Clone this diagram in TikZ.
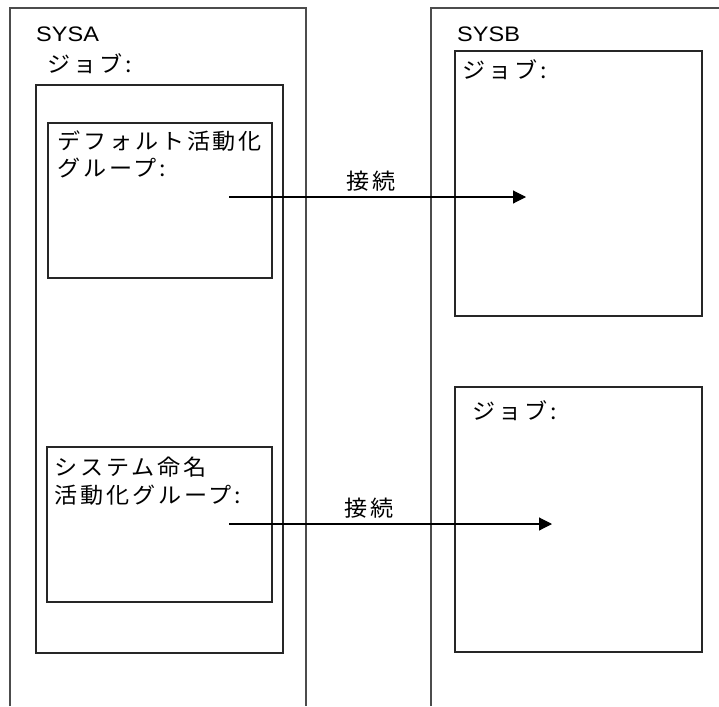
\documentclass[tikz,border=0pt]{standalone}
\usepackage{fontspec}
\usepackage{graphicx}
\setmainfont{Liberation Sans}
\newfontfamily\cjk[FakeStretch=1.05,LetterSpace=13]{Noto Sans CJK JP}
\newcommand{\widetxt}[1]{\scalebox{1.12}[1]{#1}}
\usetikzlibrary{arrows.meta}
\begin{document}
\begin{tikzpicture}[x=1pt,y=-1pt,
  frame/.style={draw=black!70,line width=1.1pt},
  boxline/.style={draw=black!85,line width=1.1pt},
  lbl/.style={anchor=west,inner sep=0pt,font=\fontsize{21}{24}\selectfont},
  jlbl/.style={anchor=west,inner sep=0pt,font=\cjk\fontsize{22}{24}\selectfont},
  clbl/.style={above=5pt,inner sep=0pt,font=\cjk\fontsize{22}{24}\selectfont},
  conn/.style={draw=black,line width=1.1pt,-{Triangle[length=13pt,width=13pt]}}]
\useasboundingbox (0,0) rectangle (719,706);
% system frames
\draw[frame] (10,706) -- (10,8) -- (306,8) -- (306,706);
\draw[frame] (431,706) -- (431,8) -- (719,8);
% boxes
\draw[boxline] (36,85) rectangle (283,653);
\draw[boxline] (48,123) rectangle (272,278);
\draw[boxline] (47,447) rectangle (272,602);
\draw[boxline] (455,51) rectangle (702,316);
\draw[boxline] (455,387) rectangle (702,652);
% labels
\node[lbl] (sysa) at (36,34) {\widetxt{SYSA}};
\node[lbl] (sysb) at (457,34) {\widetxt{SYSB}};
\node[jlbl] (joba) at (47,64) {ジョブ:};
\node[jlbl] (def1) at (57,141) {デフォルト活動化};
\node[jlbl] (def2) at (57,168) {グループ:};
\node[jlbl] (sys1) at (54,467) {システム命名};
\node[jlbl] (sys2) at (54,495) {活動化グループ:};
\node[jlbl] (jobb1) at (462,70) {ジョブ:};
\node[jlbl] (jobb2) at (472,411) {ジョブ:};
% connectors
\coordinate (s1) at (229,197);
\coordinate (t1) at (526,197);
\coordinate (s2) at (229,524);
\coordinate (t2) at (552,524);
\draw[conn] (s1) -- node[pos=0.478,clbl] (c1) {接続} (t1);
\draw[conn] (s2) -- node[pos=0.433,clbl] (c2) {接続} (t2);
\end{tikzpicture}
\end{document}
